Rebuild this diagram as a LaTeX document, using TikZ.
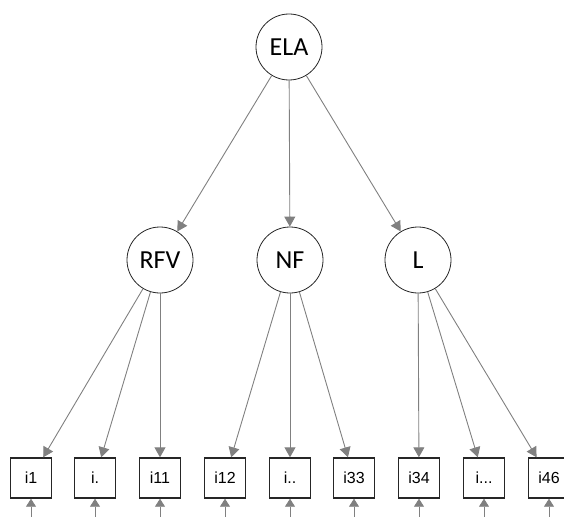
\documentclass[tikz,border=0pt]{standalone}
\usepackage{fontspec}
\setmainfont{Carlito}
\newfontfamily\boxfont{Liberation Sans}
\usetikzlibrary{arrows.meta}
\tikzset{
  latent/.style={circle, draw=black!85, line width=0.8pt, minimum size=66pt, inner sep=0pt, font=\fontsize{26}{26}\selectfont},
  item/.style={rectangle, draw=black!85, line width=1.4pt, minimum width=41pt, minimum height=40pt, inner sep=0pt, font=\fontsize{16}{16}\selectfont\boxfont},
  conn/.style={draw=black!50, line width=0.9pt, -{Triangle[length=10pt,width=11pt,fill=black!50]}},
  stub/.style={draw=black!50, line width=0.6pt, -{Triangle[length=8pt,width=10pt,fill=black!50]}}
}
\begin{document}
\begin{tikzpicture}[x=1pt,y=-1pt]
\useasboundingbox (0,0) rectangle (564,516);
\clip (0,0) rectangle (564,516);
\node[latent] (ELA) at (289,47) {ELA};
\node[latent] (RFV) at (160,260) {RFV};
\node[latent] (NF) at (290,260) {NF};
\node[latent] (L) at (418,260) {L};
\node[item] (i1) at (31,478) {i1};
\node[item] (ia) at (95,478) {i.};
\node[item] (i11) at (160,478) {i11};
\node[item] (i12) at (225,478) {i12};
\node[item] (ib) at (290,478) {i..};
\node[item] (i33) at (354,478) {i33};
\node[item] (i34) at (419,478) {i34};
\node[item] (ic) at (484,478) {i...};
\node[item] (i46) at (549,478) {i46};
\foreach \n/\x in {i1/31, ia/95, i11/160, i12/225, ib/290, i33/354, i34/419, ic/484, i46/549}{
  \coordinate (e\n) at (\x,518);
  \draw[stub] (e\n) -- (\n.south);
}
\draw[conn] (ELA) -- (RFV);
\draw[conn] (ELA) -- (NF);
\draw[conn] (ELA) -- (L);
\draw[conn] (RFV) -- (i1);
\draw[conn] (RFV) -- (ia);
\draw[conn] (RFV) -- (i11);
\draw[conn] (NF) -- (i12);
\draw[conn] (NF) -- (ib);
\draw[conn] (NF) -- (i33);
\draw[conn] (L) -- (i34);
\draw[conn] (L) -- (ic);
\draw[conn] (L) -- (i46);
\end{tikzpicture}
\end{document}
